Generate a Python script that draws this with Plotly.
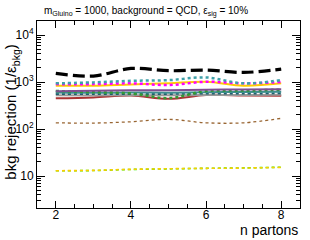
import plotly.graph_objects as go

n_partons = [2, 3, 4, 5, 6, 7, 8]

black_dashed = [1530, 1345, 1950, 1745, 1800, 1605, 1890]
teal_dotted = [940, 985, 1065, 1100, 1255, 940, 1105]
magenta_dotted = [905, 905, 940, 865, 1015, 940, 1000]
yellow_solid = [835, 835, 890, 940, 1015, 835, 940]
purple_solid = [640, 650, 670, 670, 690, 695, 700]
green_dotted = [645, 610, 575, 455, 645, 660, 690]
teal_solid = [600, 590, 600, 595, 610, 615, 620]
darkteal_dotted = [560, 555, 560, 560, 570, 570, 580]
gray_solid = [525, 520, 525, 525, 530, 530, 535]
red_solid = [450, 470, 515, 440, 530, 520, 510]
brown_dotted = [136, 134, 143, 161, 136, 136, 169]
yellow_dotted = [13.0, 13.2, 13.9, 14.3, 14.6, 14.8, 15.3]
lime_dotted = [13.0, 13.1, 13.8, 14.2, 14.6, 14.9, 15.4]

y_tickvals = [10, 100, 1000, 10000]
y_ticktext = ["10", "10<sup>2</sup>", "10<sup>3</sup>", "10<sup>4</sup>"]
x_tickvals = [2, 4, 6, 8]

series = [
    (lime_dotted, "#33ee00", 1.6, "dot"),
    (yellow_dotted, "#ffcc00", 1.6, "dot"),
    (brown_dotted, "#996633", 1.3, "dot"),
    (red_solid, "#aa3333", 2, "solid"),
    (gray_solid, "#999999", 2, "solid"),
    (darkteal_dotted, "#1f6070", 2, "dot"),
    (teal_solid, "#3f8f8f", 2, "solid"),
    (green_dotted, "#339933", 2.5, "dot"),
    (purple_solid, "#7f4f8f", 2, "solid"),
    (yellow_solid, "#ffcc00", 2, "solid"),
    (magenta_dotted, "#ff00ff", 2.5, "dot"),
    (teal_dotted, "#3fa0a8", 2.5, "dot"),
    (black_dashed, "#000000", 3.2, "12px,5px"),
]

fig = go.Figure()
for ys, col, w, dash in series:
    fig.add_trace(go.Scatter(x=n_partons, y=ys, mode="lines",
                             line=dict(color=col, width=w, dash=dash, shape="spline", smoothing=1.0),
                             showlegend=False, hoverinfo="skip"))

minor_y = [m * 10 ** k for k in range(0, 5) for m in range(2, 10)]

fig.update_layout(
    width=310, height=240,
    margin=dict(l=37, r=10, t=21, b=32, autoexpand=False),
    paper_bgcolor="white", plot_bgcolor="white",
    font=dict(family="Liberation Sans, Arial, sans-serif", color="black"),
    showlegend=False,
)
fig.update_xaxes(range=[1.5, 8.5], tickvals=x_tickvals, ticks="inside", ticklen=7,
                 tickcolor="black", showline=True, linecolor="black", linewidth=1,
                 mirror="allticks", showgrid=False, zeroline=False, automargin=False,
                 tickfont=dict(size=12), ticklabelstandoff=-4,
                 minor=dict(dtick=0.5, tick0=0, ticks="inside", ticklen=4, tickcolor="black", showgrid=False))
fig.update_yaxes(type="log", range=[0.32, 4.3], tickvals=y_tickvals, ticktext=y_ticktext,
                 ticks="inside", ticklen=8, tickcolor="black", showline=True, linecolor="black",
                 linewidth=1, mirror="allticks", showgrid=False, zeroline=False, automargin=False,
                 tickfont=dict(size=12),
                 minor=dict(tickvals=minor_y, ticks="inside", ticklen=4, tickcolor="black", showgrid=False))

fig.add_annotation(text="m<sub>Gluino</sub> = 1000, background = QCD, ε<sub>sig</sub> = 10%",
                   xref="paper", yref="paper", x=0.02, y=1.0, xanchor="left", yanchor="bottom",
                   yshift=1, showarrow=False, font=dict(size=10))
fig.add_annotation(text="n partons", xref="paper", yref="paper", x=1.0, y=0, xanchor="right",
                   yanchor="top", yshift=-12, showarrow=False, font=dict(size=14))
fig.add_annotation(text="bkg rejection (1/ε<sub>bkg</sub>)", xref="paper", yref="paper",
                   x=0, y=0.51, xshift=-25, xanchor="center", yanchor="middle", textangle=-90,
                   showarrow=False, font=dict(size=15))

fig.write_html("out.html", config={"displayModeBar": False},
               post_script="document.body.style.margin='0';document.body.style.overflow='hidden';")
